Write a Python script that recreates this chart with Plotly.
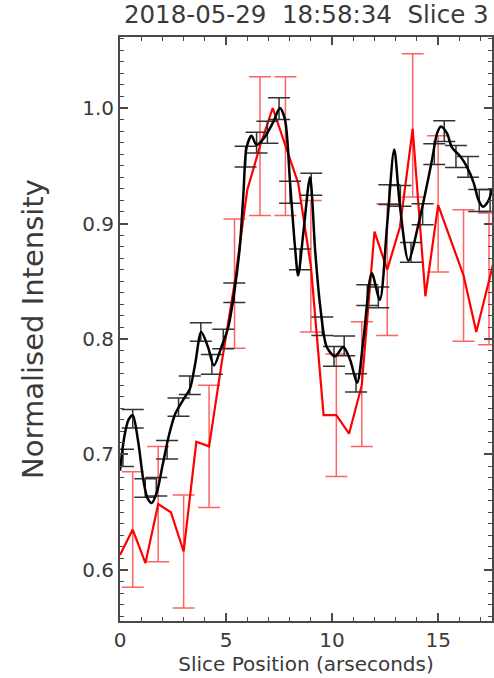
import plotly.graph_objects as go

# ---- Data ----
red_x = [0.0, 0.6, 1.2, 1.8, 2.4, 3.0, 3.6, 4.2, 4.8, 5.4, 6.0, 6.6, 7.2, 7.8, 8.4,
         9.0, 9.6, 10.2, 10.8, 11.4, 12.0, 12.6, 13.2, 13.8, 14.4, 15.0, 15.6, 16.2,
         16.8, 17.4, 18.0]
red_y = [0.613, 0.635, 0.606, 0.657, 0.650, 0.616, 0.711, 0.707, 0.780, 0.848, 0.929,
         0.967, 1.000, 0.967, 0.935, 0.863, 0.734, 0.734, 0.718, 0.760, 0.893, 0.860,
         0.897, 0.982, 0.837, 0.916, 0.886, 0.855, 0.806, 0.852, 0.895]

red_err_x = [0.6, 1.8, 3.0, 4.2, 5.4, 6.6, 7.8, 9.0, 10.2, 11.4, 12.6, 13.8, 15.0, 16.2, 17.4]
red_err_y = [0.635, 0.657, 0.616, 0.707, 0.848, 0.967, 0.967, 0.863, 0.734, 0.761, 0.860,
             0.985, 0.917, 0.855, 0.852]
red_err = [0.050, 0.050, 0.049, 0.053, 0.056, 0.060, 0.060, 0.057, 0.053, 0.054, 0.057,
           0.062, 0.059, 0.057, 0.057]

black_curve_x = [0.0, 0.2, 0.4, 0.6, 0.85, 1.1, 1.3, 1.5, 1.75, 2.0, 2.3, 2.6, 3.0, 3.3,
                 3.55, 3.83, 4.15, 4.43, 4.78, 5.1, 5.4, 5.65, 5.82, 5.97, 6.2, 6.44, 6.83,
                 7.23, 7.54, 7.78, 8.02, 8.25, 8.4, 8.64, 8.96, 9.2, 9.43, 9.75, 10.14,
                 10.53, 10.85, 11.18, 11.48, 11.87, 12.25, 12.6, 12.93, 13.2, 13.6, 14.08,
                 14.39, 14.71, 14.95, 15.13, 15.42, 15.65, 16.05, 16.36, 16.68, 16.91,
                 17.12, 17.38, 17.55]
black_curve_y = [0.686, 0.715, 0.730, 0.734, 0.712, 0.678, 0.662, 0.658, 0.668, 0.690,
                 0.716, 0.735, 0.748, 0.757, 0.779, 0.806, 0.793, 0.777, 0.793, 0.810,
                 0.842, 0.880, 0.926, 0.966, 0.976, 0.968, 0.975, 0.988, 1.000, 0.990,
                 0.935, 0.880, 0.855, 0.891, 0.940, 0.877, 0.830, 0.793, 0.785, 0.793,
                 0.782, 0.762, 0.800, 0.857, 0.834, 0.900, 0.964, 0.915, 0.868, 0.900,
                 0.926, 0.955, 0.978, 0.984, 0.978, 0.966, 0.958, 0.949, 0.935, 0.920,
                 0.9145, 0.920, 0.930]

black_err_x = [0.14, 0.60, 1.19, 1.71, 2.22, 2.76, 3.29, 3.81, 4.33, 4.87, 5.39, 5.92,
               6.44, 6.95, 7.50, 8.02, 8.49, 9.02, 9.54, 10.09, 10.57, 11.13, 11.66,
               12.18, 12.70, 13.22, 13.72, 14.27, 14.82, 15.29, 15.84, 16.41, 16.94, 17.45]
black_err_y = [0.697, 0.731, 0.671, 0.672, 0.704, 0.741, 0.760, 0.806, 0.778, 0.800,
               0.840, 0.958, 0.970, 0.979, 0.9995, 0.927, 0.869, 0.934, 0.811, 0.785,
               0.794, 0.762, 0.838, 0.836, 0.925, 0.924, 0.875, 0.908, 0.960, 0.980,
               0.958, 0.949, 0.920, 0.920]
black_err = [0.0075, 0.008, 0.008, 0.008, 0.008, 0.008, 0.008, 0.008, 0.0085, 0.0085,
             0.0085, 0.009, 0.009, 0.0095, 0.0095, 0.0095, 0.009, 0.0095, 0.008, 0.0085,
             0.0085, 0.008, 0.009, 0.009, 0.0085, 0.009, 0.0085, 0.009, 0.009, 0.009,
             0.0095, 0.009, 0.0095, 0.0095]

title_text = "2018-05-29\u00a0\u00a018:58:34\u00a0\u00a0Slice 3"
x_title = "Slice Position (arseconds)"
y_title = "Normalised Intensity"
x_ticks = [0, 5, 10, 15]
y_ticks = [0.6, 0.7, 0.8, 0.9, 1.0]

FONT = "DejaVu Sans"
TXT = "#3a3a3a"
AX = "#4a4a4a"

fig = go.Figure()

fig.add_trace(go.Scatter(
    x=red_err_x, y=red_err_y, mode="markers",
    marker=dict(size=1, color="rgba(0,0,0,0)"),
    error_y=dict(type="data", array=red_err, visible=True,
                 color="rgba(255,45,45,0.75)", thickness=1.5, width=11),
    hoverinfo="skip", showlegend=False))

fig.add_trace(go.Scatter(
    x=red_x, y=red_y, mode="lines",
    line=dict(color="#ff0000", width=2.2),
    showlegend=False))

fig.add_trace(go.Scatter(
    x=black_err_x, y=black_err_y, mode="markers",
    marker=dict(size=1, color="rgba(0,0,0,0)"),
    error_y=dict(type="data", array=black_err, visible=True,
                 color="#333333", thickness=1.5, width=11),
    hoverinfo="skip", showlegend=False))

fig.add_trace(go.Scatter(
    x=black_curve_x, y=black_curve_y, mode="lines",
    line=dict(color="#000000", width=2.5, shape="spline", smoothing=0.8),
    showlegend=False))

axis_common = dict(
    showline=True, linecolor=AX, linewidth=2, mirror="allticks",
    ticks="inside", ticklen=8, tickwidth=1.5, tickcolor=AX,
    showgrid=False, zeroline=False,
    tickfont=dict(family=FONT, size=20, color=TXT),
)

fig.update_xaxes(
    range=[0, 17.54], tickvals=x_ticks, ticktext=[str(v) for v in x_ticks],
    minor=dict(dtick=1, ticks="inside", ticklen=4, tickwidth=1.2, tickcolor=AX),
    title=dict(text=x_title, font=dict(family=FONT, size=20, color=TXT), standoff=0),
    **axis_common)

fig.update_yaxes(
    range=[0.5558, 1.0615], tickvals=y_ticks, ticktext=[f"{v:.1f}" for v in y_ticks],
    minor=dict(dtick=0.01, tick0=0.6, ticks="inside", ticklen=4, tickwidth=1.2, tickcolor=AX),
    title=dict(text=y_title, font=dict(family=FONT, size=29, color=TXT), standoff=30),
    **axis_common)

fig.update_layout(
    width=494, height=678,
    margin=dict(l=120, r=2, t=37, b=57, autoexpand=False),
    paper_bgcolor="white", plot_bgcolor="white",
    title=dict(text=title_text, x=0.62, xanchor="center", y=0.978, yanchor="middle",
               font=dict(family=FONT, size=24.5, color=TXT)),
)

fig.write_html("out.html", config={"displayModeBar": False},
               post_script="document.body.style.margin='0';document.body.style.padding='0';")
